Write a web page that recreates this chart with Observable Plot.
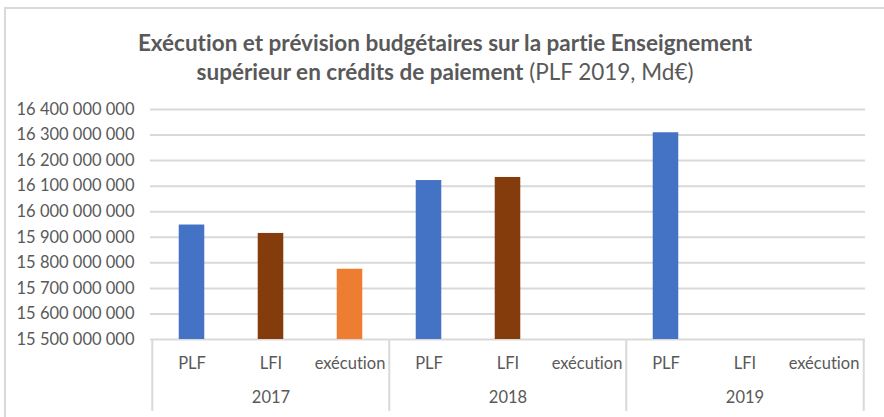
<!DOCTYPE html>
<html>
<head>
<meta charset="utf-8">
<script src="https://cdn.jsdelivr.net/npm/d3@7"></script>
<script src="https://cdn.jsdelivr.net/npm/@observablehq/plot@0.6"></script>
<style>
  html, body { margin: 0; padding: 0; background: #fff; width: 884px; height: 417px; overflow: hidden; }
  #frame { position: absolute; left: 4px; top: 7px; width: 900px; height: 430px; border-left: 2px solid #d9d9d9; border-top: 2px solid #d9d9d9; }
  #title { position: absolute; left: 0; width: 890px; top: 28px; text-align: center; font-family: Lato, sans-serif; font-size: 22.5px; line-height: 29px; color: #595959; font-variant-ligatures: none; }
  #title b { font-weight: 700; }
  #chart { position: absolute; left: 0; top: 100px; }
  #chart svg text { font-variant-ligatures: none; }
</style>
</head>
<body>
<div id="frame"></div>
<div id="title"><b>Exécution et prévision budgétaires sur la partie Enseignement<br>supérieur en crédits de paiement</b> (PLF 2019, Md€)</div>
<div id="chart"></div>
<script>
const years = ["2017", "2018", "2019"];
const categories = ["PLF", "LFI", "exécution"];
const plf = [15948000000, 16122000000, 16309000000];
const lfi = [15915000000, 16134000000, null];
const execution = [15775000000, null, null];
const yTicks = [15500000000, 15600000000, 15700000000, 15800000000, 15900000000, 16000000000, 16100000000, 16200000000, 16300000000, 16400000000];
const colors = ["#4472C4", "#843C0C", "#ED7D31"];

const series = [plf, lfi, execution];
const keys = [];
const data = [];
years.forEach((yr, i) => {
  categories.forEach((c, j) => {
    const k = yr + "|" + c;
    keys.push(k);
    const v = series[j][i];
    if (v != null) data.push({key: k, year: yr, category: c, value: v});
  });
});

const W = 884, H = 317;
const mL = 150, mR = 19, mT = 9, mB = 78;
const plotH = H - mT - mB;
const bw = (W - mL - mR) / keys.length;
const barW = 26;
const fmt = d => d3.format(",")(d).replace(/,/g, " ");

const chart = Plot.plot({
  width: W,
  height: H,
  marginLeft: mL,
  marginRight: mR,
  marginTop: mT,
  marginBottom: mB,
  style: {fontFamily: "Lato, sans-serif", fontSize: "16.5px", color: "#595959", background: "transparent"},
  x: {type: "band", domain: keys, padding: 0, axis: null},
  y: {domain: [15500000000, 16400000000], axis: null},
  color: {domain: categories, range: colors},
  marks: [
    Plot.ruleY(yTicks, {stroke: "#d9d9d9", strokeWidth: 2}),
    Plot.axisY(yTicks, {tickSize: 0, tickPadding: 16, tickFormat: fmt, fill: "#595959", fontSize: 16.5, label: null}),
    Plot.barY(data, {x: "key", y1: 15500000000, y2: "value", fill: "category", insetLeft: (bw - barW) / 2, insetRight: (bw - barW) / 2}),
    Plot.axisX(keys, {tickSize: 0, tickPadding: 18, tickFormat: k => k.split("|")[1], fill: "#595959", fontSize: 16.5, label: null}),
    Plot.text(years, {x: y => y + "|LFI", frameAnchor: "bottom", dy: 63, text: d => d, fill: "#595959", fontSize: 16.5}),
    Plot.ruleX(years, {x: y => y + "|PLF", dx: -bw / 2, stroke: "#d9d9d9", strokeWidth: 2, insetTop: plotH, insetBottom: -72}),
    Plot.ruleX([years[years.length - 1]], {x: y => y + "|exécution", dx: bw / 2, stroke: "#d9d9d9", strokeWidth: 2, insetTop: plotH, insetBottom: -72})
  ]
});
document.getElementById("chart").appendChild(chart);
</script>
</body>
</html>
